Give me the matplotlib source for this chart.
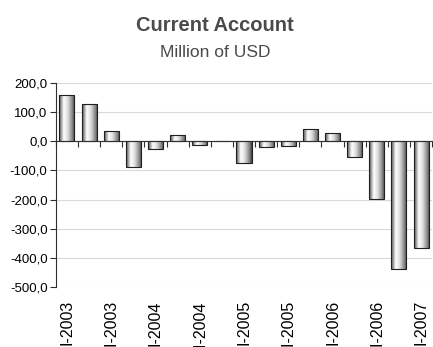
import numpy as np
import matplotlib
matplotlib.use("Agg")
import matplotlib.pyplot as plt
from matplotlib.colors import LinearSegmentedColormap
from matplotlib.ticker import FuncFormatter

plt.rcParams['font.family'] = ['Liberation Sans', 'DejaVu Sans']

# quarterly current account, I-2003 .. I-2007
quarters = ['I-2003', 'II-2003', 'III-2003', 'IV-2003',
            'I-2004', 'II-2004', 'III-2004', 'IV-2004',
            'I-2005', 'II-2005', 'III-2005', 'IV-2005',
            'I-2006', 'II-2006', 'III-2006', 'IV-2006',
            'I-2007']
values = [158, 129, 34, -88, -26, 20, -12, 0,
          -74, -19, -15, 41, 28, -54, -199, -437, -365]

fig = plt.figure(figsize=(4.33, 3.47), dpi=100)
ax = fig.add_axes([0.129, 0.173, 0.869, 0.588])

x = np.arange(len(values))
bars = ax.bar(x, values, width=0.68, color='none', edgecolor='#202020',
              linewidth=0.8, zorder=3)

# cylinder-like shading on every bar
shade = LinearSegmentedColormap.from_list('shade', [
    (0.0, '#4e4e4e'), (0.3, '#ffffff'), (0.55, '#dedede'),
    (0.85, '#848484'), (1.0, '#404040')])
grad = np.linspace(0, 1, 64).reshape(1, -1)
for b in bars:
    x0, w = b.get_x(), b.get_width()
    y0, h = b.get_y(), b.get_height()
    if h == 0:
        continue
    im = ax.imshow(grad, cmap=shade, aspect='auto', zorder=2,
                   extent=(x0, x0 + w, min(y0, y0 + h), max(y0, y0 + h)))
    im.set_clip_path(b)

ax.set_xlim(-0.5, len(values) - 0.5)
ax.set_ylim(-500, 200)
ax.set_yticks(np.arange(-500, 201, 100))
ax.yaxis.set_major_formatter(FuncFormatter(lambda v, p: f'{v:.1f}'.replace('.', ',')))
ax.grid(axis='y', color='#d9d9d9', linewidth=0.8, zorder=0)
ax.set_axisbelow(True)

for s in ('top', 'right'):
    ax.spines[s].set_visible(False)
ax.spines['left'].set_color('#303030')
ax.spines['bottom'].set_position(('data', 0))
ax.spines['bottom'].set_color('#303030')
ax.spines['bottom'].set_zorder(4)

ax.set_xticks(np.arange(-0.5, len(values), 1))
ax.set_xticklabels([])
ax.tick_params(axis='x', direction='out', length=4, color='#303030')
ax.tick_params(axis='y', direction='out', length=4, color='#303030',
               labelsize=9.5, pad=2)

# every other quarter is labelled below the plot
for i in range(0, len(quarters), 2):
    ax.text(i, -0.065, quarters[i], transform=ax.get_xaxis_transform(),
            rotation=90, ha='center', va='top', fontsize=11.5)

fig.text(0.497, 0.926, 'Current Account', ha='center', va='center',
         fontsize=14.5, fontweight='bold', color='#4a4a4a')
fig.text(0.497, 0.848, 'Million of USD', ha='center', va='center',
         fontsize=12.5, color='#4a4a4a')

fig.savefig('out.png', dpi=100)
